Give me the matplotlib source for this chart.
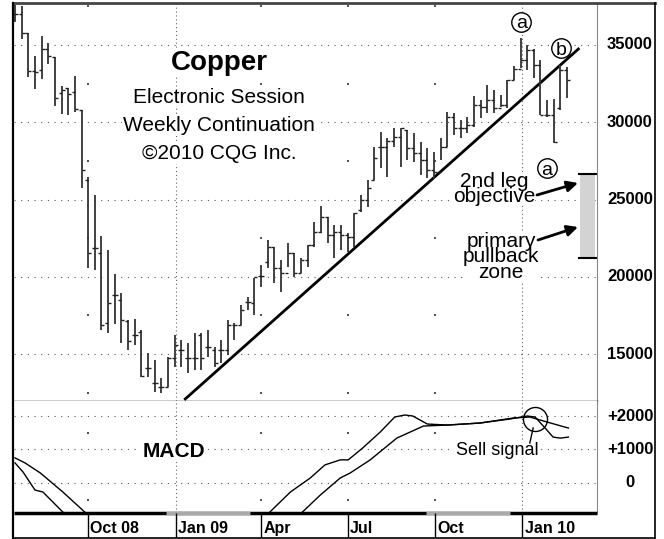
import matplotlib
matplotlib.use("Agg")
import matplotlib.pyplot as plt
from matplotlib.lines import Line2D
from matplotlib.patches import Rectangle
import numpy as np
import pandas as pd

plt.rcParams["font.family"] = ["Liberation Sans", "DejaVu Sans"]

W, H = 664, 539

# weekly bars, week 0 = week of 2008-07-16
START = pd.Timestamp("2008-07-16")

bar_high = [37590, 37520, 35780, 34290, 35580, 35130, 34220, 32350, 32220, 32990,
            30790, 26460, 25300, 22640, 21740, 20180, 18950, 17210, 17270, 16560,
            15070, 14620, 13460, 14810, 16240, 15910, 15720, 16370, 16370, 16560,
            15460, 15910, 17210, 17010, 18180, 18700, 19930, 20770, 22380, 21930,
            21090, 22190, 21540, 21220, 22060, 23550, 24580, 23870, 23350, 23350,
            22840, 24130, 25300, 26270, 28400, 29370, 28980, 29630, 29630, 29500,
            29310, 28720, 28340, 28080, 28980, 30670, 30600, 30150, 30340, 31700,
            31440, 32410, 32090, 31770, 32740, 33640, 35450, 35000, 34740, 34030,
            31440, 31510, 33710, 33580]
bar_low = [36490, 35390, 32930, 32150, 32800, 33770, 31050, 30540, 30470, 30670,
           25750, 20570, 20440, 16560, 16370, 16950, 15720, 15270, 15590, 13520,
           13520, 12550, 12490, 12870, 14170, 14170, 13780, 13970, 13970, 14810,
           14170, 14430, 14940, 15910, 16880, 17850, 17530, 19340, 20570, 19600,
           19020, 20640, 19990, 20250, 20640, 21930, 22840, 22190, 21220, 21740,
           21610, 21930, 24200, 24520, 26270, 27040, 26460, 28400, 27110, 27560,
           27430, 26590, 26400, 26330, 27560, 28400, 29180, 28980, 29310, 29690,
           30280, 30600, 30600, 30990, 30920, 32740, 33510, 33380, 32870, 30470,
           30340, 28660, 30790, 31570]
bar_open = [37010, 37010, 35780, 33320, 33380, 34740, 34220, 31890, 32220, 31960,
            30790, 26270, 21870, 21540, 17010, 18830, 18500, 17140, 16240, 16430,
            14100, 13130, 12870, 12870, 14750, 15270, 14750, 14750, 16240, 15460,
            15270, 15270, 15270, 16880, 16880, 18370, 18310, 20050, 20960, 21930,
            20570, 20250, 21540, 20250, 21090, 22060, 22900, 23870, 22710, 22900,
            22710, 22580, 24320, 24970, 26270, 28400, 28400, 28790, 29050, 29500,
            28340, 28010, 27560, 26910, 26780, 28400, 30340, 29630, 29630, 29820,
            31120, 30990, 31440, 30920, 31120, 32740, 33450, 34030, 34680, 33710,
            30470, 30470, 30920, 33380]
bar_close = [37010, 35780, 33320, 33250, 34740, 34290, 31570, 32090, 31830, 30860,
             26910, 21540, 21870, 16880, 18310, 18830, 17210, 15850, 16240, 13580,
             14100, 13130, 12870, 14750, 15590, 15270, 14750, 14750, 14750, 15460,
             14430, 15270, 16880, 16880, 17850, 18370, 19990, 20050, 21930, 20570,
             20250, 21540, 20250, 21090, 22060, 22900, 23870, 22710, 22900, 22710,
             22580, 24130, 24970, 25750, 27690, 28400, 28790, 29050, 29630, 28340,
             28010, 27560, 26910, 26780, 28400, 30340, 29630, 29630, 29820, 31120,
             30990, 31440, 30920, 31120, 32740, 33450, 34030, 34680, 33710, 30470,
             30470, 28720, 33380, 32740]

# MACD lines (week, value); the gap is where both run below the panel
macd_x = [0, 1.2, 3.0, 4.2, 5.7, 7.2, 8.4, np.nan,
          37.6, 38.3, 41.4, 44.4, 46.6, 48.9, 50.1, 52.3, 54.9, 57.1, 58.6, 59.8,
          62.0, 65.0, 69.9, 74.4, 77.0, 78.2, 79.7, 80.9, 82.0, 83.2]
macd_val = [600, 330, -210, -270, -570, -870, -1200, np.nan,
            -1100, -870, -270, 150, 540, 690, 690, 1050, 1520, 1970, 2030, 2000,
            1760, 1730, 1790, 1910, 2000, 1970, 1640, 1370, 1340, 1370]
signal_x = [0, 1.5, 3.8, 7.2, 10.5, 11.6, np.nan,
            42.3, 43.2, 45.9, 48.9, 50.4, 53.4, 57.4, 61.4, 65.0, 69.9, 74.9,
            77.4, 80.0, 83.2]
signal_val = [750, 600, 300, -270, -870, -1100, np.nan,
              -1100, -870, -360, 150, 300, 690, 1340, 1700, 1730, 1790, 1940,
              1970, 1820, 1640]

price_ticks = [15000, 20000, 25000, 30000, 35000]
price_half = [12500, 17500, 22500, 27500, 32500, 37500]
macd_ticks = [0, 1000, 2000]
macd_labels = ["0", "+1000", "+2000"]
month_dates = ["2008-10-01", "2009-01-01", "2009-04-01", "2009-07-01", "2009-10-01", "2010-01-01"]
month_labels = ["Oct 08", "Jan 09", "Apr", "Jul", "Oct", "Jan 10"]
year_dates = ["2009-01-01", "2010-01-01"]

trend_x = [25.6, 84.7]
trend_y = [12100, 34740]
zone_low, zone_high = 21220, 26650
wave_labels = ["a", "b", "a"]
wave_x = [76.1, 82.1, 80.0]
wave_y = [36490, 34800, 27040]


def week_of(date_str):
    return (pd.Timestamp(date_str) - START).days / 7


month_pos = [week_of(d) for d in month_dates]
year_pos = [week_of(d) for d in year_dates]
XLIM = (-0.15, 87.5)

fig = plt.figure(figsize=(W / 100, H / 100), dpi=100)
fig.patch.set_facecolor("white")

ax = fig.add_axes([14 / W, (H - 401) / H, 583 / W, 398 / H])
ax2 = fig.add_axes([14 / W, (H - 513) / H, 583 / W, 112 / H])
ax3 = fig.add_axes([14 / W, (H - 538) / H, 583 / W, 25 / H])

for a in (ax, ax2, ax3):
    a.set_xlim(*XLIM)
    a.tick_params(left=False, bottom=False, right=False, top=False,
                  labelleft=False, labelbottom=False)
    for s in a.spines.values():
        s.set_visible(False)

ax.set_ylim(11967, 37717)
ax2.set_ylim(-896, 2448)
ax3.set_ylim(0, 1)

grid_kw = dict(color="#555555", lw=0.8, ls=(0, (1, 5)), zorder=0)
year_kw = dict(color="#666666", lw=0.8, ls=(0, (1, 2.5)), zorder=0)

# price panel
for y in price_ticks:
    ax.axhline(y, **grid_kw)
for x in year_pos:
    ax.axvline(x, **year_kw)
quarter_pos = [p for p in month_pos if p not in year_pos]
for x in quarter_pos:
    ax.scatter([x] * len(price_half), price_half, s=1.2, c="#555555", marker="s", lw=0, zorder=0)

ax.plot(trend_x, trend_y, color="black", lw=2, zorder=2)

wk = np.arange(len(bar_high))
ax.vlines(wk, bar_low, bar_high, color="#333333", lw=1.3, zorder=3)
ax.hlines(bar_open, wk - 0.45, wk, color="#222222", lw=1, zorder=3)
ax.hlines(bar_close, wk, wk + 0.45, color="#222222", lw=1, zorder=3)

ax.add_patch(Rectangle((84.96, zone_low), 2.26, zone_high - zone_low,
                       fc="#d3d3d3", ec="none", zorder=1))
ax.hlines([zone_low, zone_high], 84.66, 87.5, color="black", lw=1.5, zorder=2)

for lab, x, y in zip(wave_labels, wave_x, wave_y):
    ax.plot(x, y, "o", ms=14, mfc="white", mec="black", mew=1, zorder=5)
    ax.text(x, y, lab, ha="center", va="center_baseline", fontsize=14, zorder=6)

box = dict(fc="white", ec="none", pad=1)
ax.text(0.3516, 0.8317, "Copper", transform=ax.transAxes, ha="center", va="baseline",
        fontsize=20, fontweight="bold", bbox=box, zorder=4)
for txt, fy in [("Electronic Session", 0.7487), ("Weekly Continuation", 0.6784),
                ("\u00a92010 CQG Inc.", 0.6080)]:
    ax.text(0.3516, fy, txt, transform=ax.transAxes, ha="center", va="baseline",
            fontsize=15, bbox=box, zorder=4)

ax.text(0.8233, (401 - 189) / 398, "2nd leg\nobjective", transform=ax.transAxes,
        ha="center", va="center", multialignment="center", fontsize=15,
        linespacing=0.68, bbox=dict(fc="white", ec="none", pad=0), zorder=4)
ax.text(0.8353, (401 - 257) / 398, "primary\npullback\nzone", transform=ax.transAxes,
        ha="center", va="center", multialignment="center", fontsize=15,
        linespacing=0.74, bbox=dict(fc="white", ec="none", pad=0), zorder=4)

arrow = dict(arrowstyle="-|>", color="black", lw=2, mutation_scale=16, shrinkA=0, shrinkB=0)
ax.annotate("", xy=(0.9674, 0.5477), xytext=(0.8971, 0.5176),
            xycoords="axes fraction", textcoords="axes fraction", arrowprops=arrow, zorder=5)
ax.annotate("", xy=(0.9674, 0.4372), xytext=(0.8988, 0.4045),
            xycoords="axes fraction", textcoords="axes fraction", arrowprops=arrow, zorder=5)

for y in price_ticks:
    ax.text(1.0566, y, str(y), transform=ax.get_yaxis_transform(), ha="center", va="center",
            fontsize=12, fontweight="bold", clip_on=False)

ax.spines["right"].set_visible(True)
ax.spines["right"].set_color("#888888")
ax.spines["bottom"].set_visible(True)
ax.spines["bottom"].set_linewidth(1)

# MACD panel
for y in macd_ticks:
    ax2.axhline(y, **grid_kw)
for x in year_pos:
    ax2.axvline(x, **year_kw)
for x in quarter_pos:
    ax2.scatter([x, x], [-500, 1500], s=1.2, c="#555555", marker="s", lw=0, zorder=0)

ax2.plot(macd_x, macd_val, color="black", lw=1, zorder=3)
ax2.plot(signal_x, signal_val, color="black", lw=1, zorder=3)

ax2.text(0.2744, 0.5, "MACD", transform=ax2.transAxes, ha="center", va="baseline",
         fontsize=15, fontweight="bold", bbox=box, zorder=4)
ax2.text(0.8285, 0.518, "Sell signal", transform=ax2.transAxes, ha="center", va="baseline",
         fontsize=13, bbox=box, zorder=4)
ax2.plot(78.2, 1910, "o", ms=17.3, mfc="none", mec="black", mew=1, zorder=5)
ax2.plot([77.9, 77.4], [1642, 1194], color="black", lw=1, zorder=5)

for y, lab in zip(macd_ticks, macd_labels):
    ax2.text(1.0566, y, lab, transform=ax2.get_yaxis_transform(), ha="center", va="center",
             fontsize=12, fontweight="bold", clip_on=False)

ax2.spines["right"].set_visible(True)
ax2.spines["right"].set_color("#888888")

# date strip
ax3.plot(XLIM, [1, 1], color="black", lw=2.5, clip_on=False, solid_capstyle="butt")
for x0, x1 in [(22.7, 35.4), (61.8, 74.4)]:
    ax3.plot([x0, x1], [1, 1], color="#aaaaaa", lw=2.5, clip_on=False, solid_capstyle="butt")
ax3.vlines(month_pos, 0, 1, color="black", lw=1)
for x, lab in zip(month_pos, month_labels):
    ax3.text(x + 0.35, 0.2, lab, ha="left", va="baseline", fontsize=11.5, fontweight="bold")


# outer frame
def frame_line(x0, y0, x1, y1, **kw):
    fig.add_artist(Line2D([x0 / W, x1 / W], [1 - y0 / H, 1 - y1 / H],
                          transform=fig.transFigure, **kw))


frame_line(13, 3, 655, 3, color="#444444", lw=2)
frame_line(13, 3, 13, 538, color="black", lw=1.6)
frame_line(655, 3, 655, 538, color="black", lw=1.2)
frame_line(13, 538, 655, 538, color="black", lw=1.2)

fig.savefig("out.png", dpi=100, facecolor="white")
